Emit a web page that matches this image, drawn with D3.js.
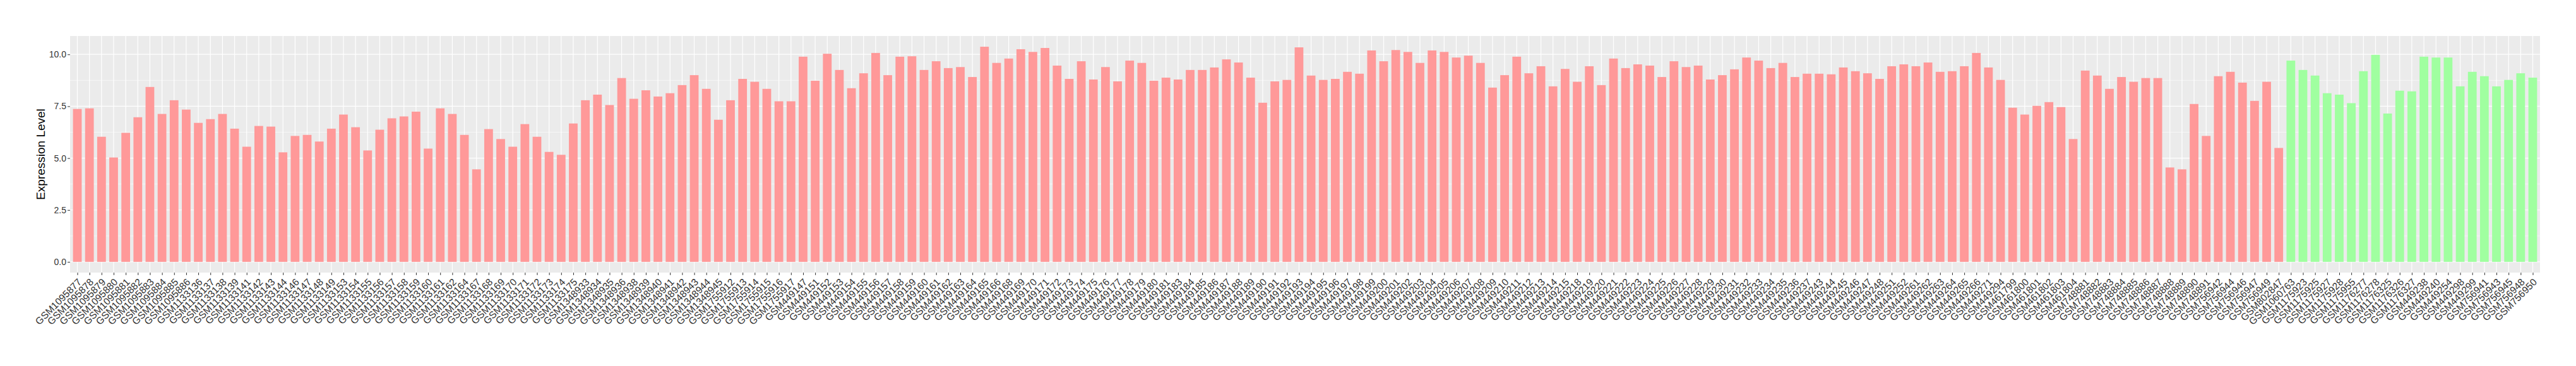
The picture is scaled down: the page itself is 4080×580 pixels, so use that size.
<!DOCTYPE html>
<html>
<head>
<meta charset="utf-8">
<script src="https://cdn.jsdelivr.net/npm/d3@7"></script>
<style>
  body { margin: 0; background: #fff; }
  text { font-family: "Liberation Sans", Arial, Helvetica, sans-serif; }
</style>
</head>
<body>
<div id="canvas"></div>
<script>
// red group
const samplesA = [
  "GSM1095877","GSM1095878","GSM1095879","GSM1095880","GSM1095881","GSM1095882","GSM1095883","GSM1095884","GSM1095885","GSM1095886",
  "GSM1133136","GSM1133137","GSM1133138","GSM1133139","GSM1133141","GSM1133142","GSM1133143","GSM1133144","GSM1133146","GSM1133147",
  "GSM1133148","GSM1133149","GSM1133153","GSM1133154","GSM1133155","GSM1133156","GSM1133157","GSM1133158","GSM1133159","GSM1133160",
  "GSM1133161","GSM1133162","GSM1133164","GSM1133167","GSM1133168","GSM1133169","GSM1133170","GSM1133171","GSM1133172","GSM1133173",
  "GSM1133174","GSM1133175","GSM1348933","GSM1348934","GSM1348935","GSM1348936","GSM1348938","GSM1348939","GSM1348940","GSM1348941",
  "GSM1348942","GSM1348943","GSM1348944","GSM1348945","GSM1755912","GSM1755913","GSM1755914","GSM1755915","GSM1755916","GSM1755917",
  "GSM449147","GSM449151","GSM449152","GSM449153","GSM449154","GSM449155","GSM449156","GSM449157","GSM449158","GSM449159",
  "GSM449160","GSM449161","GSM449162","GSM449163","GSM449164","GSM449165","GSM449166","GSM449168","GSM449169","GSM449170",
  "GSM449171","GSM449172","GSM449173","GSM449174","GSM449175","GSM449176","GSM449177","GSM449178","GSM449179","GSM449180",
  "GSM449181","GSM449183","GSM449184","GSM449185","GSM449186","GSM449187","GSM449188","GSM449189","GSM449190","GSM449191",
  "GSM449192","GSM449193","GSM449194","GSM449195","GSM449196","GSM449197","GSM449198","GSM449199","GSM449200","GSM449201",
  "GSM449202","GSM449203","GSM449204","GSM449205","GSM449206","GSM449207","GSM449208","GSM449209","GSM449210","GSM449211",
  "GSM449212","GSM449213","GSM449214","GSM449215","GSM449218","GSM449219","GSM449220","GSM449221","GSM449222","GSM449223",
  "GSM449224","GSM449225","GSM449226","GSM449227","GSM449228","GSM449229","GSM449230","GSM449231","GSM449232","GSM449233",
  "GSM449234","GSM449235","GSM449236","GSM449237","GSM449243","GSM449244","GSM449245","GSM449246","GSM449247","GSM449248",
  "GSM449251","GSM449252","GSM449261","GSM449262","GSM449263","GSM449264","GSM449265","GSM449266","GSM449271","GSM449294",
  "GSM461799","GSM461800","GSM461801","GSM461802","GSM461803","GSM461804","GSM748881","GSM748882","GSM748883","GSM748884",
  "GSM748885","GSM748886","GSM748887","GSM748888","GSM748889","GSM748890","GSM748891","GSM756942","GSM756944","GSM756946",
  "GSM756947","GSM756949","GSM802847"
];
const valuesA = [
  7.37, 7.40, 6.03, 5.03, 6.22, 6.97, 8.43, 7.13, 7.79, 7.34, 6.70, 6.88,
  7.13, 6.42, 5.55, 6.55, 6.52, 5.28, 6.07, 6.12, 5.80, 6.42, 7.10, 6.49, 5.37, 6.37, 6.92, 7.01, 7.24, 5.46,
  7.40, 7.13, 6.12, 4.46, 6.40, 5.92, 5.55, 6.64, 6.03, 5.30, 5.16, 6.67, 7.79, 8.06, 7.56, 8.86, 7.86,
  8.27, 7.97, 8.13, 8.52, 9.00, 8.34, 6.85, 7.79, 8.82, 8.68, 8.34, 7.74, 7.74, 9.89, 8.73, 10.03, 9.25, 8.37,
  9.09, 10.07, 9.00, 9.89, 9.91, 9.25, 9.67, 9.34, 9.39, 8.91, 10.37, 9.59, 9.80, 10.25, 10.12, 10.31, 9.46, 8.82,
  9.67, 8.79, 9.39, 8.70, 9.70, 9.59, 8.73, 8.88, 8.79, 9.25, 9.25, 9.37, 9.76, 9.61, 8.88, 7.67, 8.70, 8.77,
  10.34, 8.98, 8.77, 8.82, 9.16, 9.07, 10.19, 9.67, 10.21, 10.12, 9.59, 10.19, 10.12, 9.85, 9.94, 9.59, 8.40,
  9.00, 9.89, 9.09, 9.43, 8.46, 9.30, 8.68, 9.43, 8.52, 9.80, 9.34, 9.52, 9.46, 8.91, 9.67, 9.39, 9.46, 8.79,
  9.00, 9.28, 9.85, 9.70, 9.34, 9.59, 8.91, 9.07, 9.07, 9.04, 9.37, 9.19, 9.09, 8.82, 9.43, 9.52, 9.43, 9.61,
  9.16, 9.19, 9.43, 10.07, 9.37, 8.77, 7.43, 7.10, 7.52, 7.70, 7.46, 5.92, 9.22, 8.98, 8.34, 8.91, 8.68, 8.86,
  8.86, 4.55, 4.46, 7.61, 6.07, 8.95, 9.16, 8.64, 7.76, 8.68, 5.49
];
// green group
const samplesB = [
  "GSM1060763","GSM1175923","GSM1175925","GSM1175927","GSM1175928","GSM1175955","GSM1176277","GSM1176278","GSM1176325","GSM1176326",
  "GSM1176327","GSM449238","GSM449240","GSM449254","GSM449298","GSM449299","GSM756941","GSM756943","GSM756945","GSM756948",
  "GSM756950"
];
const valuesB = [
  9.70, 9.25, 8.98, 8.13, 8.06, 7.65, 9.19, 9.98, 7.15, 8.25,
  8.22, 9.89, 9.85, 9.85, 8.46, 9.16, 8.95, 8.46, 8.77, 9.09,
  8.88
];
const yTicks = [0, 2.5, 5, 7.5, 10];
const yMinor = [1.25, 3.75, 6.25, 8.75];
const yTitle = "Expression Level";

const colorA = "#FF9999";
const colorB = "#A0FFA0";

const width = 4080;
const height = 580;
const margin = {top: 57, left: 111, bottom: 148, right: 57};
const iwidth = width - margin.left - margin.right;
const iheight = height - margin.top - margin.bottom;

const datos = samplesA.map((s, i) => ({name: s, value: valuesA[i], fill: colorA}))
  .concat(samplesB.map((s, i) => ({name: s, value: valuesB[i], fill: colorB})));

const svg = d3.select("#canvas").append("svg")
  .attr("width", width)
  .attr("height", height);

const g = svg.append("g").attr("transform", `translate(${margin.left},${margin.top})`);

const maxV = d3.max(datos, d => d.value);
const y = d3.scaleLinear()
  .domain([-0.05 * maxV, maxV * 1.05])
  .range([iheight, 0]);

const x = d3.scalePoint()
  .domain(datos.map(d => d.name))
  .range([0, iwidth])
  .padding(0.6);
const bw = x.step() * 0.72;

// panel
g.append("rect")
  .attr("width", iwidth)
  .attr("height", iheight)
  .attr("fill", "#EBEBEB");

g.selectAll(".minor").data(yMinor).enter().append("line")
  .attr("x1", 0).attr("x2", iwidth)
  .attr("y1", d => y(d)).attr("y2", d => y(d))
  .attr("stroke", "#fff").attr("stroke-width", 0.6);

g.selectAll(".major").data(yTicks).enter().append("line")
  .attr("x1", 0).attr("x2", iwidth)
  .attr("y1", d => y(d)).attr("y2", d => y(d))
  .attr("stroke", "#fff").attr("stroke-width", 1.2);

g.selectAll(".vgrid").data(datos).enter().append("line")
  .attr("x1", d => x(d.name)).attr("x2", d => x(d.name))
  .attr("y1", 0).attr("y2", iheight)
  .attr("stroke", "#fff").attr("stroke-width", 1.2);

g.selectAll(".bar").data(datos).enter().append("rect")
  .attr("class", "bar")
  .attr("x", d => x(d.name) - bw / 2)
  .attr("y", d => y(d.value))
  .attr("width", bw)
  .attr("height", d => y(0) - y(d.value))
  .style("fill", d => d.fill);

// axes
const yAxis = g.append("g")
  .call(d3.axisLeft(y).tickValues(yTicks).tickFormat(d3.format(".1f")).tickSize(4).tickPadding(2));
yAxis.select(".domain").remove();
yAxis.selectAll("line").attr("stroke", "#333");
yAxis.selectAll("text")
  .attr("fill", "#333")
  .style("font-size", "14px");

const xAxis = g.append("g")
  .attr("transform", `translate(0,${iheight})`)
  .call(d3.axisBottom(x).tickSize(4));
xAxis.select(".domain").remove();
xAxis.selectAll("line").attr("stroke", "#333");
xAxis.selectAll("text")
  .attr("y", null)
  .attr("dy", null)
  .attr("text-anchor", "end")
  .attr("transform", "translate(7,16) rotate(-45)")
  .attr("fill", "#333")
  .style("font-size", "15.5px");

svg.append("text")
  .attr("transform", `translate(71,${margin.top + iheight / 2}) rotate(-90)`)
  .attr("text-anchor", "middle")
  .style("font-size", "19px")
  .attr("fill", "#000")
  .text(yTitle);
</script>
</body>
</html>
